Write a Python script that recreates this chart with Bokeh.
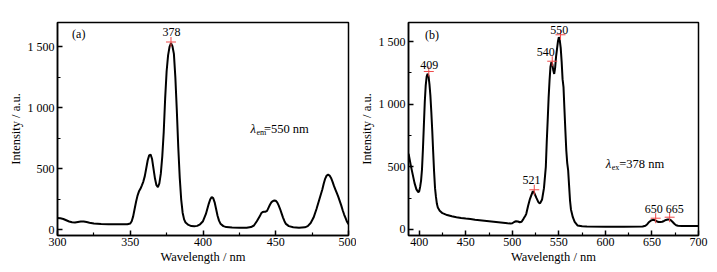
from bokeh.plotting import figure
from bokeh.layouts import row
from bokeh.models import Range1d, FixedTicker
from bokeh.core.properties import value
from bokeh.embed import file_html
from bokeh.resources import INLINE

# ---------------- data: panel (a) excitation spectrum ----------------
wl_a = [300, 302, 304, 306, 308, 310, 312, 314, 316, 318, 320, 322, 325, 330, 335, 340, 345, 348,
        350, 351, 352, 353, 354, 355, 356, 357, 358, 359, 360, 361, 362, 363, 364, 365, 366, 367,
        368, 369, 370, 371, 372, 373, 374, 375, 376, 377, 378, 379, 380, 381, 382, 383, 384, 385,
        386, 387, 388, 389, 390, 392, 394, 396, 398, 400, 402, 404, 405, 406, 407, 408, 409, 410,
        411, 412, 414, 416, 420, 425, 430, 433, 435, 437, 439, 440, 441, 442, 443, 444, 445, 446,
        447, 448, 449, 450, 451, 452, 453, 454, 455, 456, 457, 459, 462, 466, 470, 472, 474, 476,
        478, 480, 482, 483, 484, 485, 486, 487, 488, 489, 490, 491, 492, 493, 494, 495, 496, 497,
        498, 499, 500]
int_a = [96, 94, 88, 78, 68, 62, 60, 64, 68, 68, 64, 58, 52, 48, 46, 45, 45, 46,
         52, 70, 110, 170, 230, 280, 315, 336, 365, 395, 440, 505, 570, 610, 617, 580, 500, 420,
         365, 349, 380, 460, 600, 800, 1080, 1300, 1430, 1500, 1530, 1505, 1443, 1250, 980, 677, 430, 250,
         140, 85, 60, 50, 40, 30, 28, 32, 45, 70, 130, 215, 250, 268, 260, 225, 170, 115,
         75, 50, 30, 22, 18, 16, 17, 22, 35, 70, 110, 135, 145, 148, 148, 155, 180, 205,
         225, 235, 240, 238, 225, 200, 170, 135, 100, 70, 48, 30, 20, 17, 20, 30, 55, 100,
         170, 250, 330, 380, 420, 445, 452, 445, 425, 395, 360, 330, 300, 270, 235, 200, 160, 125,
         95, 65, 45]
peak_a_x = [378]
peak_a_y = [1540]
peak_a_lbl = ["378"]
lbl_a_x = [378.3]
lbl_a_y = [1620]

# ---------------- data: panel (b) emission spectrum ----------------
wl_b = [388.5, 389, 391, 393, 395, 397, 399, 400, 401, 402, 403, 404, 405, 406, 407, 408, 409, 410,
        411, 412, 413, 414, 415, 416, 417, 418, 419, 420, 422, 425, 430, 435, 440, 445, 450, 455,
        460, 465, 470, 475, 480, 485, 490, 495, 498, 500, 502, 504, 506, 508, 510, 512, 514, 515,
        517, 519, 521, 522, 523, 524, 526, 528, 529, 530, 532, 534, 536, 537, 538, 539, 540, 541,
        542, 543, 544, 545, 546, 547, 548, 549, 550, 551, 552, 553, 554, 555, 556, 557, 558, 559,
        560, 561, 562, 563, 565, 567, 570, 575, 580, 600, 620, 640, 643, 645, 647, 649, 651, 653,
        655, 657, 659, 661, 663, 665, 667, 668, 670, 672, 674, 676, 678, 682, 690, 700]
int_b = [604, 590, 510, 440, 370, 320, 298, 305, 340, 390, 480, 640, 830, 1020, 1150, 1220, 1243, 1225,
         1160, 1070, 940, 790, 620, 460, 330, 260, 205, 175, 150, 130, 115, 105, 98, 92, 87, 83,
         78, 74, 70, 66, 62, 58, 54, 50, 48, 50, 60, 66, 64, 58, 62, 85, 110, 125,
         190, 245, 285, 305, 300, 285, 250, 218, 210, 212, 240, 330, 500, 700, 870, 1050, 1189, 1300,
         1335, 1320, 1270, 1242, 1290, 1380, 1440, 1500, 1535, 1510, 1450, 1340, 1200, 1136, 960, 790, 630, 530,
         471, 350, 231, 160, 98, 60, 32, 26, 24, 22, 22, 24, 30, 42, 60, 72, 77, 74,
         66, 60, 60, 62, 68, 76, 80, 80, 76, 62, 46, 34, 30, 28, 27, 27]
peak_b_x = [410.3, 523.6, 542.9, 551.8, 654.0, 669.0]
peak_b_y = [1261, 317, 1343, 1554, 90, 98]
peak_b_lbl = ["409", "521", "540", "550", "650", "665"]
lbl_b_x = [410.7, 520.7, 536.0, 550.4, 651.9, 674.4]
lbl_b_y = [1309, 391, 1415, 1594, 165, 165]

x_ticks_a = [300, 350, 400, 450, 500]
x_minor_a = [325, 375, 425, 475]
x_ticks_b = [400, 450, 500, 550, 600, 650, 700]
x_minor_b = [425, 475, 525, 575, 625, 675]
y_ticks = [0, 500, 1000, 1500]
y_minor = [250, 750, 1250]
y_tick_labels = {0: "0", 500: "500", 1000: "1 000", 1500: "1 500"}

FONT = "Liberation Serif"
RED = "#ef4a4a"


def style(p, xt, xm):
    p.xgrid.visible = False
    p.ygrid.visible = False
    p.outline_line_color = "black"
    p.outline_line_width = 1.5
    p.outline_line_alpha = 1.0
    p.background_fill_color = "white"
    p.border_fill_color = "white"
    p.xaxis.ticker = FixedTicker(ticks=xt, minor_ticks=xm)
    p.yaxis.ticker = FixedTicker(ticks=y_ticks, minor_ticks=y_minor)
    p.yaxis.major_label_overrides = y_tick_labels
    for ax in (p.xaxis[0], p.yaxis[0]):
        ax.axis_line_width = 1.5
        ax.axis_line_color = "black"
        ax.major_tick_line_width = 1.5
        ax.minor_tick_line_width = 1.2
        ax.major_tick_in = 5
        ax.major_tick_out = 0
        ax.minor_tick_in = 3
        ax.minor_tick_out = 0
        ax.major_label_text_font = FONT
        ax.major_label_text_font_size = "12px"
        ax.major_label_text_color = "black"
        ax.axis_label_text_font = FONT
        ax.axis_label_text_font_size = "12.5px"
        ax.axis_label_text_font_style = "normal"
        ax.axis_label_text_color = "black"
    p.xaxis.major_label_standoff = 2
    p.xaxis.axis_label_standoff = 1
    p.yaxis.major_label_standoff = 3
    p.yaxis.axis_label_standoff = 2
    p.xaxis.axis_label = "Wavelength / nm"
    p.yaxis.axis_label = "Intensity / a.u."


# ---------------- panel (a) ----------------
pa = figure(frame_width=291, frame_height=213, min_border_left=57, min_border_right=8,
            min_border_top=22, min_border_bottom=37,
            x_range=Range1d(300, 500), y_range=Range1d(-47, 1700),
            output_backend="svg", toolbar_location=None)
style(pa, x_ticks_a, x_minor_a)
pa.line(wl_a, int_a, line_color="black", line_width=2)
pa.scatter(peak_a_x, peak_a_y, marker="cross", size=10, line_color=RED, line_width=1)
pa.text(lbl_a_x, lbl_a_y, text=peak_a_lbl, text_font=value(FONT), text_font_size="12px",
        text_align="center", text_baseline="middle", text_color="black")
pa.text([314.6], [1606], text=["(a)"], text_font=value(FONT), text_font_size="12px",
        text_align="center", text_baseline="middle", text_color="black")
pa.text([432.6], [830], text=["λ"], text_font=value(FONT), text_font_size="12.5px",
        text_font_style="italic", text_align="left", text_baseline="middle", text_color="black")
pa.text([432.6], [830], text=["em"], text_font=value(FONT), text_font_size="8px",
        x_offset=6, y_offset=4, text_align="left", text_baseline="middle", text_color="black")
pa.text([432.6], [830], text=["=550 nm"], text_font=value(FONT), text_font_size="12.5px",
        x_offset=13.5, text_align="left", text_baseline="middle", text_color="black")

# ---------------- panel (b) ----------------
pb = figure(frame_width=290, frame_height=213, min_border_left=46, min_border_right=25,
            min_border_top=22, min_border_bottom=37,
            x_range=Range1d(388.5, 700), y_range=Range1d(-48, 1652),
            output_backend="svg", toolbar_location=None)
style(pb, x_ticks_b, x_minor_b)
pb.line(wl_b, int_b, line_color="black", line_width=2)
pb.scatter(peak_b_x, peak_b_y, marker="cross", size=10, line_color=RED, line_width=1)
pb.text(lbl_b_x, lbl_b_y, text=peak_b_lbl, text_font=value(FONT), text_font_size="12px",
        text_align="center", text_baseline="middle", text_color="black")
pb.text([413.7], [1556], text=["(b)"], text_font=value(FONT), text_font_size="12px",
        text_align="center", text_baseline="middle", text_color="black")
pb.text([600.4], [524], text=["λ"], text_font=value(FONT), text_font_size="12.5px",
        text_font_style="italic", text_align="left", text_baseline="middle", text_color="black")
pb.text([600.4], [524], text=["ex"], text_font=value(FONT), text_font_size="8px",
        x_offset=6, y_offset=4, text_align="left", text_baseline="middle", text_color="black")
pb.text([600.4], [524], text=["=378 nm"], text_font=value(FONT), text_font_size="12.5px",
        x_offset=13.5, text_align="left", text_baseline="middle", text_color="black")

layout = row(pa, pb)
open("out.html", "w").write(file_html(layout, INLINE))
